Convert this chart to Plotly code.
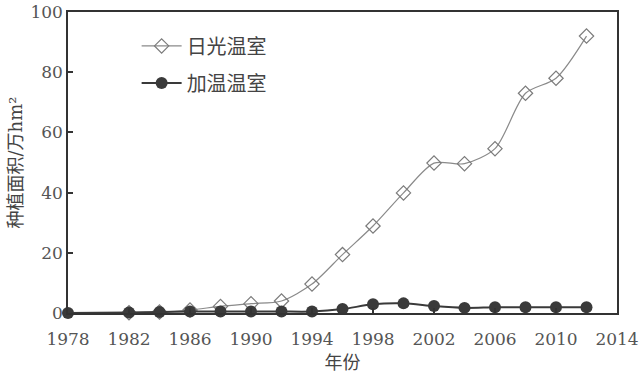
import plotly.graph_objects as go

years_day = [1982, 1984, 1986, 1988, 1990, 1992, 1994, 1996, 1998, 2000, 2002, 2004, 2006, 2008, 2010, 2012]
day_vals = [0.1, 0.3, 1.0, 2.2, 3.1, 4.0, 9.6, 19.4, 28.9, 39.9, 49.8, 49.6, 54.6, 73.0, 78.0, 92.0]

years_heat = [1978, 1982, 1984, 1986, 1988, 1990, 1992, 1994, 1996, 1998, 2000, 2002, 2004, 2006, 2008, 2010, 2012]
heat_vals = [0.0, 0.2, 0.3, 0.5, 0.5, 0.5, 0.5, 0.5, 1.3, 2.9, 3.2, 2.3, 1.7, 1.9, 1.9, 1.9, 1.9]

x_ticks = list(range(1978, 2015, 4))
y_ticks = [0, 20, 40, 60, 80, 100]

FONT = "DejaVu Serif, Noto Sans CJK SC"

fig = go.Figure()
fig.add_trace(go.Scatter(
    x=years_day, y=day_vals, name="日光温室", mode="lines+markers", legendgroup="a",
    line=dict(color="#8a8a8a", width=1.2, shape="spline", smoothing=0.8),
    marker=dict(symbol="diamond-open", size=11, color="#7a7a7a", line=dict(width=1.2)),
    cliponaxis=False,
))
fig.add_trace(go.Scatter(
    x=years_heat, y=heat_vals, name="加温温室", mode="lines+markers", legendgroup="b",
    line=dict(color="#3a3a3a", width=2, shape="spline", smoothing=0.8),
    marker=dict(symbol="circle", size=12, color="#3a3a3a"),
    cliponaxis=False,
))

axis_common = dict(
    showline=True, linecolor="#333333", linewidth=1.5, mirror=True,
    ticks="inside", ticklen=5, tickcolor="#333333", tickwidth=1.5,
    showgrid=False, zeroline=False, automargin=False,
    tickfont=dict(family=FONT, size=17, color="#555555"),
)

fig.update_layout(
    width=642, height=374,
    margin=dict(l=68, r=25, t=12, b=61),
    paper_bgcolor="white", plot_bgcolor="white",
    font=dict(family=FONT, color="#444444"),
    xaxis=dict(range=[1978, 2014], tickvals=x_ticks, ticklabelstandoff=10,
               title=dict(text="年份", font=dict(family=FONT, size=18, color="#444444"), standoff=8),
               **axis_common),
    yaxis=dict(range=[0, 100], tickvals=y_ticks,
               title=dict(text="种植面积/万hm²", font=dict(family=FONT, size=18, color="#444444"), standoff=3),
               **axis_common),
    legend=dict(x=0.125, y=0.952, xanchor="left", yanchor="top",
                font=dict(family=FONT, size=20, color="#444444"),
                bgcolor="rgba(0,0,0,0)", itemwidth=40, tracegroupgap=8),
    showlegend=True,
)

fig.write_html("out.html")
